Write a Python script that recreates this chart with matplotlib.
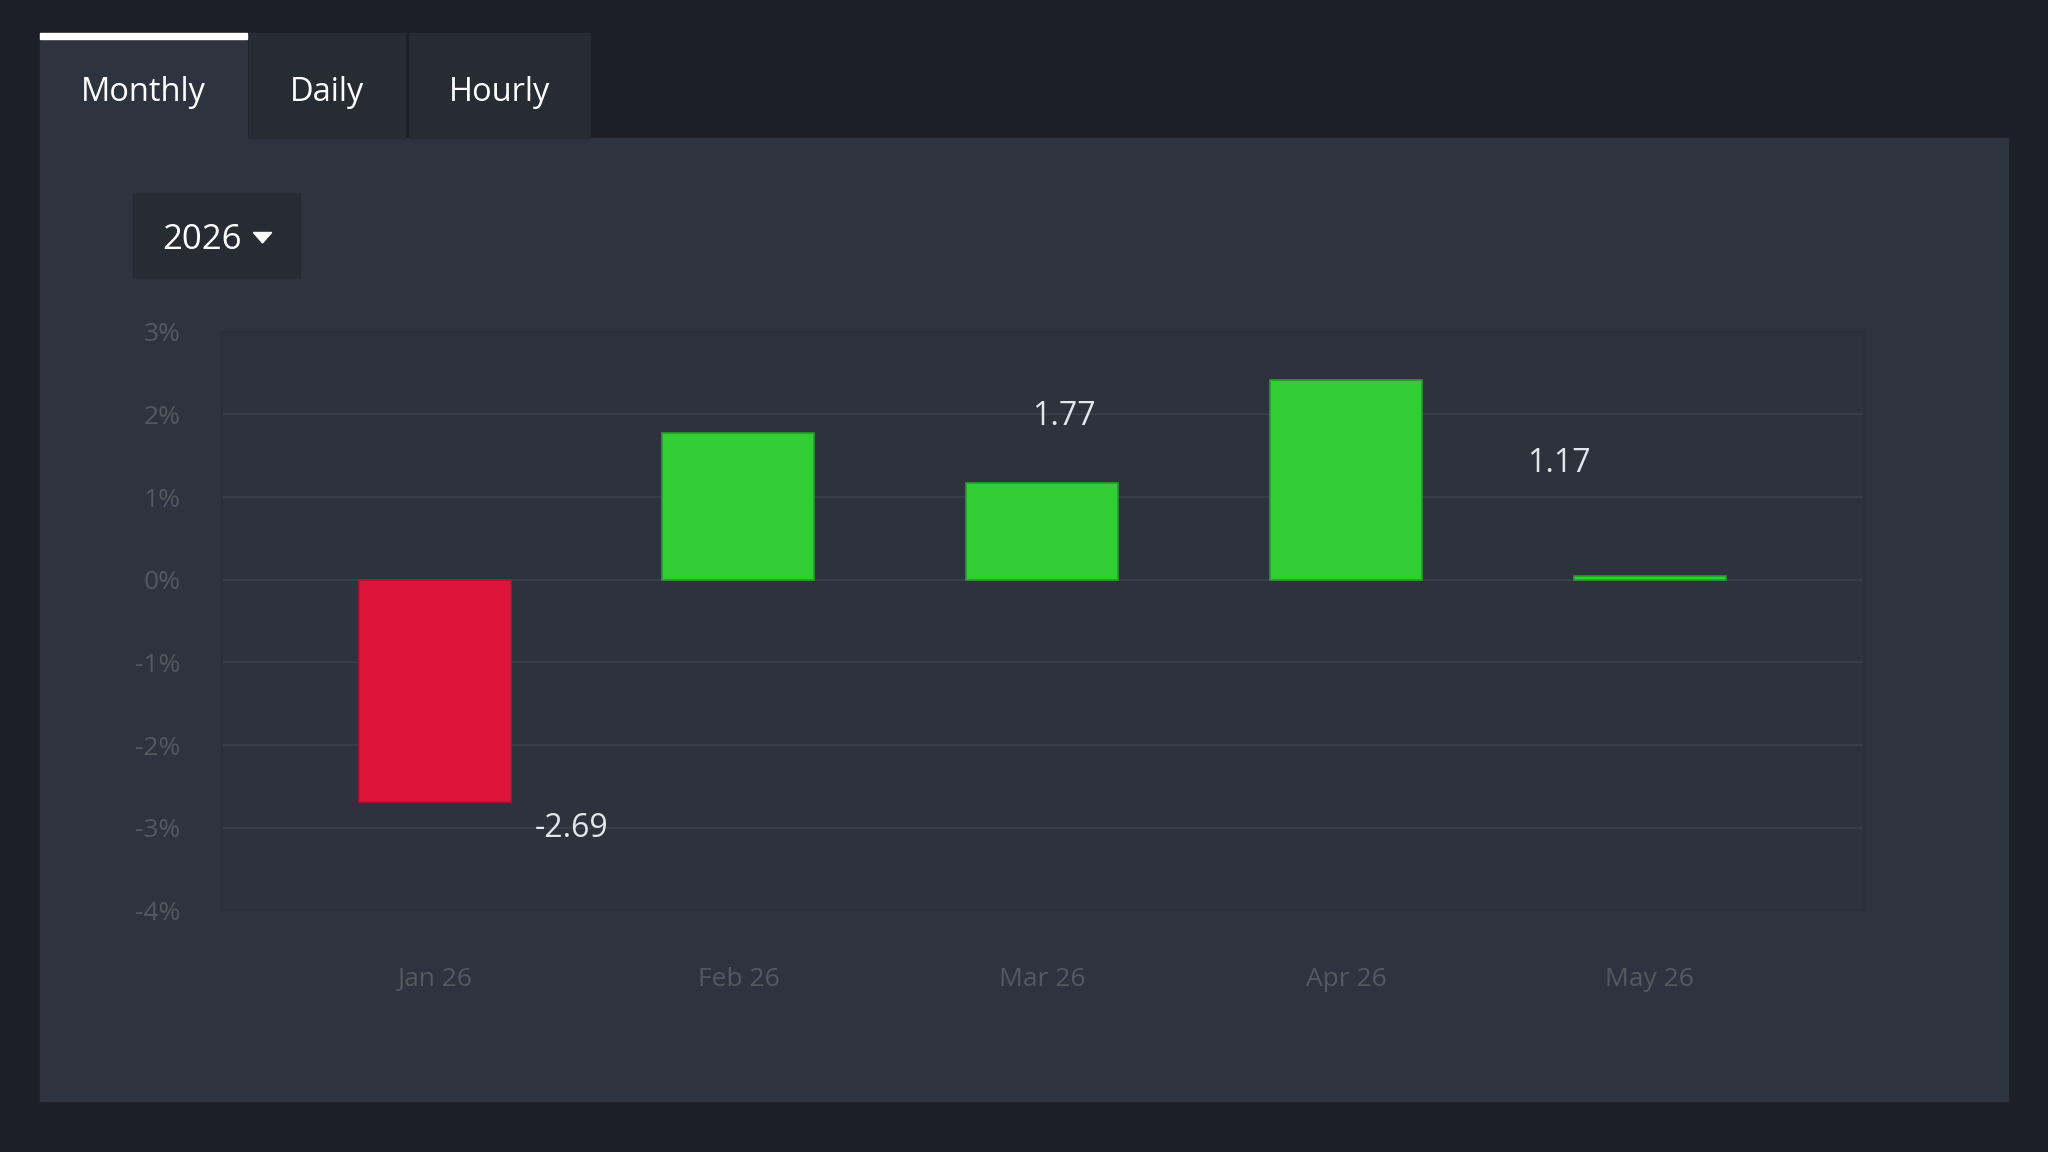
import matplotlib.pyplot as plt
from matplotlib.patches import Rectangle, Polygon

plt.rcParams['font.family'] = ['Open Sans', 'DejaVu Sans']

# data
months = ["Jan 26", "Feb 26", "Mar 26", "Apr 26", "May 26"]
returns = [-2.69, 1.77, 1.17, 2.42, 0.04]
label_texts = ["-2.69", "1.77", "1.17"]
label_x = [0.45, 2.07, 3.70]
label_y = [-3.01, 1.98, 1.41]
yticks = [-4, -3, -2, -1, 0, 1, 2, 3]
tabs = ["Monthly", "Daily", "Hourly"]

BG = "#1c1f27"
PANEL = "#2e343f"
TAB_OFF = "#272b34"
GRID = "#383d48"
TICK = "#545960"
GREEN = "#32cd32"
RED = "#dc143c"

W, H = 1568, 882  # layout measured in this pixel grid


def fx(x):
    return x / W


def fy(y):
    return 1 - y / H


def box(x0, y0, x1, y1, col, z=-2):
    fig.patches.append(Rectangle((fx(x0), fy(y1)), fx(x1) - fx(x0), fy(y0) - fy(y1),
                                 transform=fig.transFigure, color=col, zorder=z))


fig = plt.figure(figsize=(20.48, 11.52), dpi=100, facecolor=BG)

# main panel
box(31, 106, 1537, 843, PANEL)

# tabs
tab_edges = [(31, 189), (191, 310), (313, 452)]
for i, (name, (x0, x1)) in enumerate(zip(tabs, tab_edges)):
    box(x0, 25, x1, 106, PANEL if i == 0 else TAB_OFF)
    fig.text(fx((x0 + x1) / 2), fy(71), name, color="white", fontsize=23.5,
             ha="center", va="center")
box(31, 25, 189, 30, "white", z=-1)

# year dropdown
box(102, 148, 230, 213, TAB_OFF)
fig.text(fx(155), fy(184), "2026", color="white", fontsize=25, ha="center", va="center")
fig.patches.append(Polygon([(fx(194), fy(178)), (fx(208), fy(178)), (fx(201), fy(186))],
                           closed=True, transform=fig.transFigure, color="white", zorder=-1))

# chart
ax = fig.add_axes([fx(170), fy(697), fx(1427) - fx(170), fy(254) - fy(697)])
ax.set_zorder(2)
ax.set_facecolor("#2d323d")
xs = list(range(len(months)))
colors = [RED if v < 0 else GREEN for v in returns]
edges = ["#b81234" if v < 0 else "#2a9a2a" for v in returns]
ax.bar(xs, returns, width=0.5, color=colors, edgecolor=edges, linewidth=1.2, zorder=3)

for t, x, y in zip(label_texts, label_x, label_y):
    ax.text(x, y, t, color="#e4e6ea", fontsize=23, ha="center", va="center", zorder=4)

ax.set_xlim(-0.70, 4.705)
ax.set_ylim(-4, 3)
ax.set_yticks(yticks)
ax.set_yticklabels([f"{v}%" for v in yticks])
ax.set_xticks(xs)
ax.set_xticklabels(months)
ax.tick_params(axis="both", length=0, colors=TICK, labelsize=19)
ax.tick_params(axis="y", pad=30)
ax.tick_params(axis="x", pad=41)
ax.grid(axis="y", color=GRID, linewidth=1.5, zorder=0)
ax.set_axisbelow(True)
for s in ax.spines.values():
    s.set_color("#2a2f39")
    s.set_linewidth(1.5)

fig.savefig("out.png", dpi=100, facecolor=BG)
